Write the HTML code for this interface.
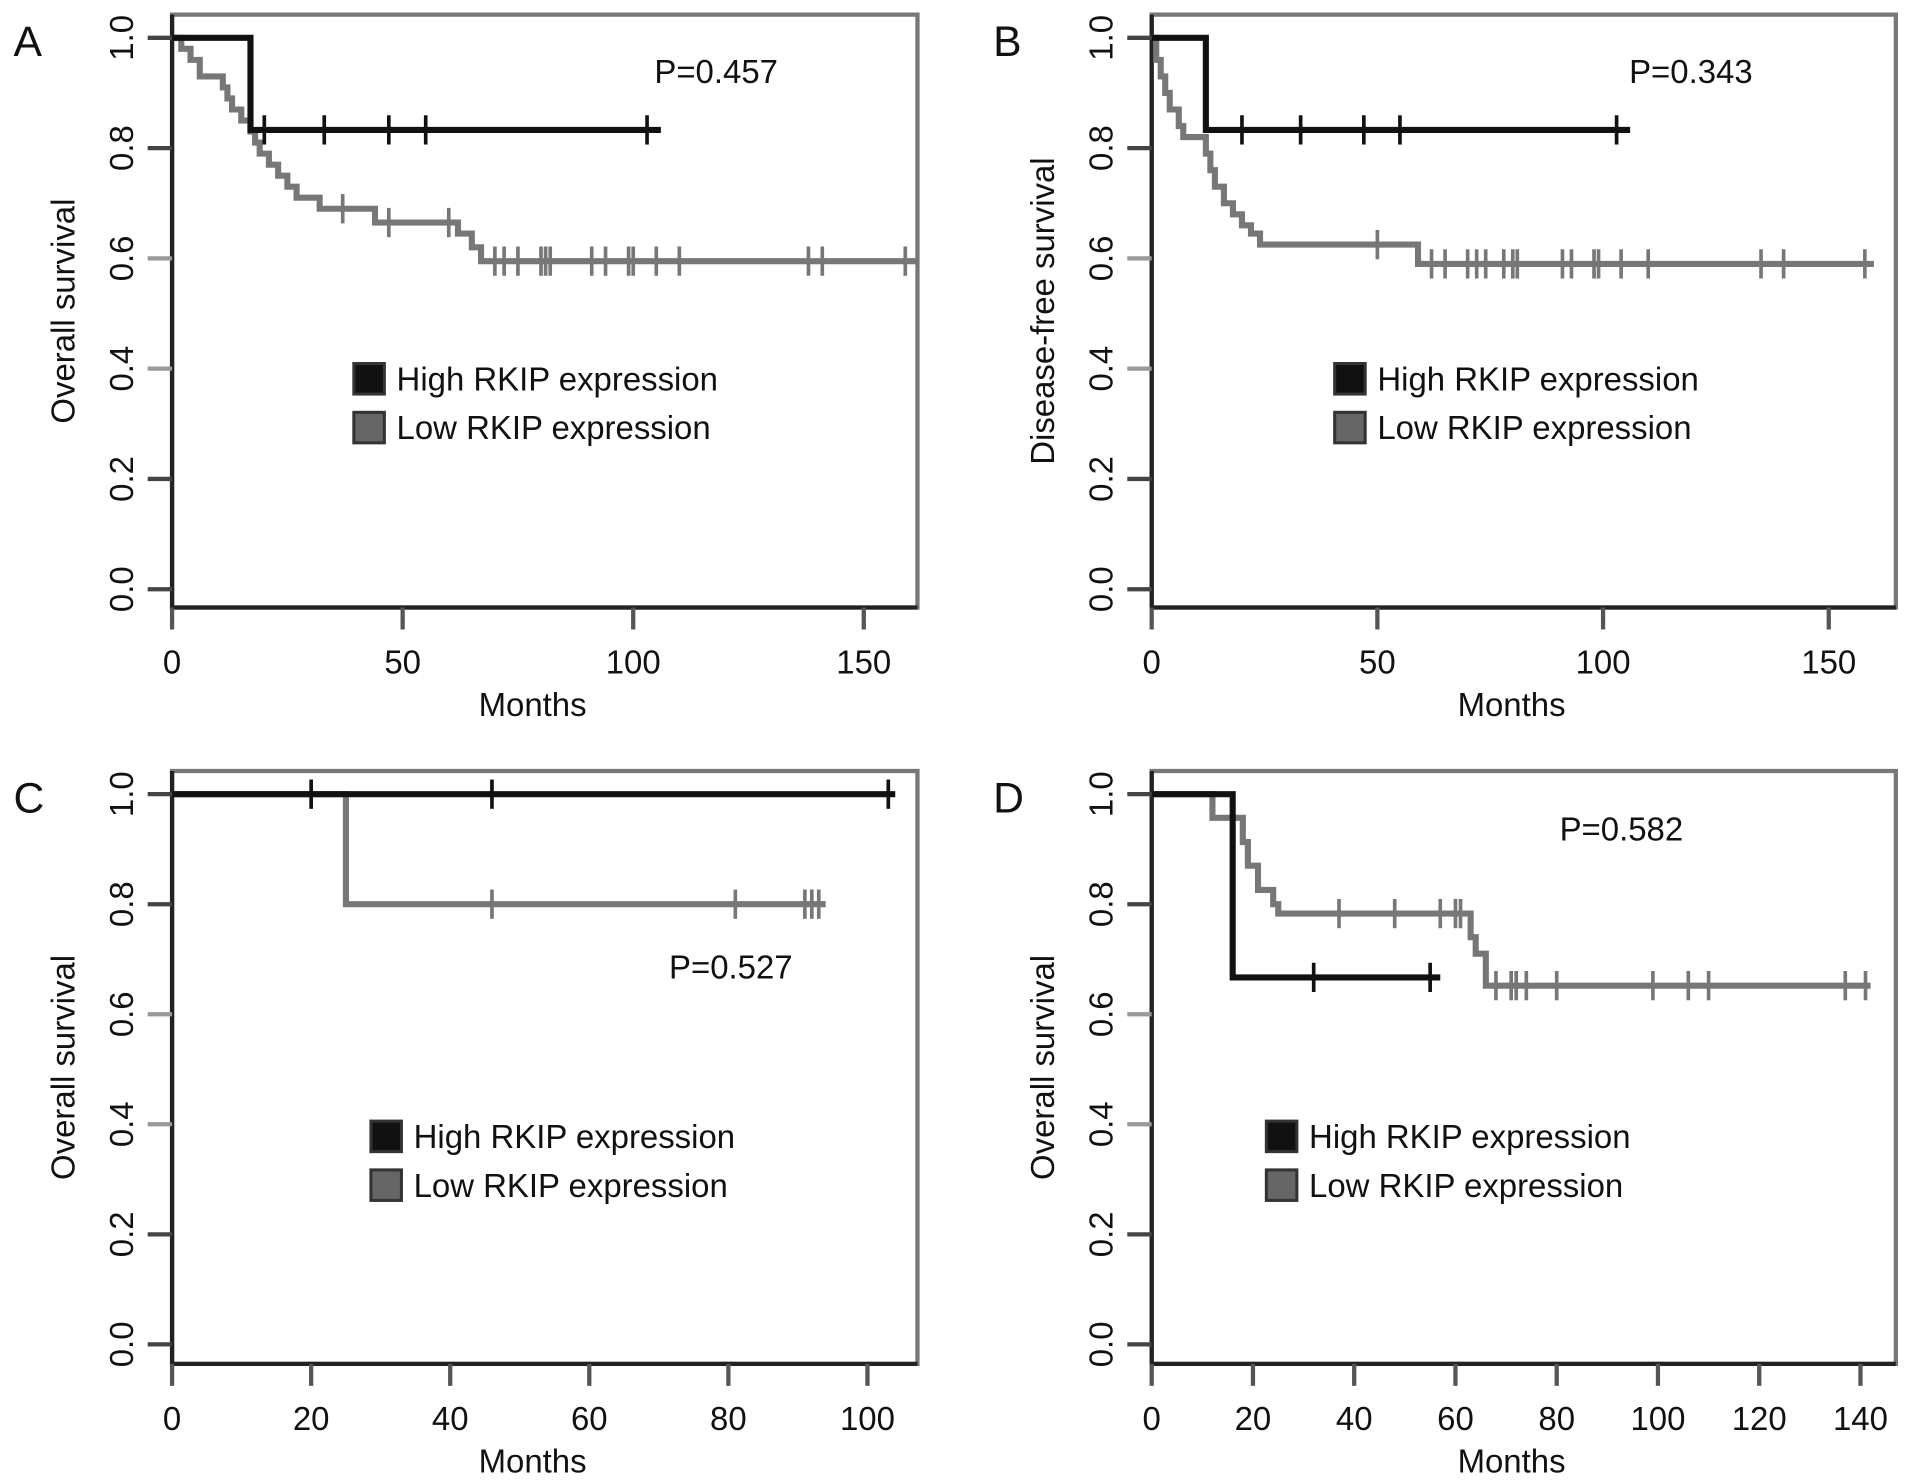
<!DOCTYPE html>
<html><head><meta charset="utf-8"><style>
html,body{margin:0;padding:0;background:#fff}
svg{display:block}
text{font-family:"Liberation Sans",sans-serif;fill:#111}
</style></head><body>
<svg id="fig" width="1913" height="1481" viewBox="0 0 1568 1214" xmlns="http://www.w3.org/2000/svg"></svg>
<script>
// Panel A
const aHighSteps=[[0,1],[17,0.833]];
const aHighCens=[20,33,47,55,103];
const aHighEnd=106;
const aLowSteps=[[0,1],[2,0.98],[4,0.96],[6,0.93],[11,0.91],[12,0.89],[13,0.87],[15,0.85],[17,0.83],[18,0.81],[19,0.79],[21,0.77],[23,0.75],[25,0.73],[27,0.71],[32,0.69],[44,0.665],[62,0.645],[65,0.62],[67,0.595]];
const aLowCens=[37,47,60,70,72,75,80,81,82,91,94,99,100,105,110,138,141,159];
const aLowEnd=162;
// Panel B
const bHighSteps=[[0,1],[12,0.833]];
const bHighCens=[20,33,47,55,103];
const bHighEnd=106;
const bLowSteps=[[0,1],[1,0.96],[2,0.93],[3,0.9],[4,0.87],[6,0.84],[7,0.82],[12,0.79],[13,0.76],[14,0.73],[16,0.7],[18,0.68],[20,0.66],[22,0.645],[24,0.625],[59,0.59]];
const bLowCens=[50,62,65,70,72,74,78,80,81,91,93,98,99,104,110,135,140,158];
const bLowEnd=160;
// Panel C
const cHighSteps=[[0,1]];
const cHighCens=[20,46,103];
const cHighEnd=104;
const cLowSteps=[[0,1],[25,0.8]];
const cLowCens=[46,81,91,92,93];
const cLowEnd=94;
// Panel D
const dHighSteps=[[0,1],[16,0.667]];
const dHighCens=[32,55];
const dHighEnd=57;
const dLowSteps=[[0,1],[12,0.957],[18,0.913],[19,0.87],[21,0.826],[24,0.8],[25,0.783],[63,0.74],[64,0.71],[66,0.652]];
const dLowCens=[37,48,57,60,61,68,71,72,74,80,99,106,110,137,141];
const dLowEnd=142;
// ticks
const yTicks=[0,0.2,0.4,0.6,0.8,1.0];
const yTickLabels=["0.0","0.2","0.4","0.6","0.8","1.0"];
const xTicksAB=[0,50,100,150];
const xTicksC=[0,20,40,60,80,100];
const xTicksD=[0,20,40,60,80,100,120,140];

const NS="http://www.w3.org/2000/svg";
const svg=document.getElementById('fig');
function mk(tag,attrs,parent){const e=document.createElementNS(NS,tag);for(const k in attrs)e.setAttribute(k,attrs[k]);(parent||svg).appendChild(e);return e;}

const panels=[
 {label:"A",L:141,R:752,T:12,B:498,y1:31,y0:483,xMax:150,xAt:708,ticks:xTicksAB,ytitle:"Overall survival",p:"P=0.457",px:587,py:68,lx:290,ly:310,hs:aHighSteps,hc:aHighCens,he:aHighEnd,ls:aLowSteps,lc:aLowCens,le:aLowEnd},
 {label:"B",L:944,R:1554,T:12,B:498,y1:31,y0:483,xMax:150,xAt:1499,ticks:xTicksAB,ytitle:"Disease-free survival",p:"P=0.343",px:1386,py:68,lx:1094,ly:310,hs:bHighSteps,hc:bHighCens,he:bHighEnd,ls:bLowSteps,lc:bLowCens,le:bLowEnd},
 {label:"C",L:141,R:752,T:632,B:1118,y1:651,y0:1102,xMax:100,xAt:711,ticks:xTicksC,ytitle:"Overall survival",p:"P=0.527",px:599,py:802,lx:304,ly:931,hs:cHighSteps,hc:cHighCens,he:cHighEnd,ls:cLowSteps,lc:cLowCens,le:cLowEnd},
 {label:"D",L:944,R:1554,T:632,B:1118,y1:651,y0:1102,xMax:140,xAt:1525,ticks:xTicksD,ytitle:"Overall survival",p:"P=0.582",px:1329,py:689,lx:1038,ly:931,hs:dHighSteps,hc:dHighCens,he:dHighEnd,ls:dLowSteps,lc:dLowCens,le:dLowEnd}
];

panels.forEach(P=>{
 const g=mk('g',{});
 
 
 const sx=v=>P.L+(P.xAt-P.L)*v/P.xMax;
 const sy=v=>P.y0+(P.y1-P.y0)*v;
 const box=mk('rect',{x:P.L,y:P.T,width:P.R-P.L,height:P.B-P.T,fill:'none',stroke:'#777','stroke-width':3.5},g);
 
 
 mk('line',{x1:P.L,y1:P.T,x2:P.L,y2:P.B,stroke:'#222','stroke-width':3.5},g);
 mk('line',{x1:P.L,y1:P.B,x2:P.R,y2:P.B,stroke:'#222','stroke-width':3.5},g);
 const lab=mk('text',{x:P.L-130,y:P.T+34,'font-size':35},g);lab.textContent=P.label;
 
 
 yTicks.forEach((t,i)=>{
  const y=sy(t);
  mk('line',{x1:P.L-20,y1:y,x2:P.L,y2:y,stroke:(i==2||i==3)?'#999':'#444','stroke-width':3.5},g);
  const tx=mk('text',{x:0,y:0,'font-size':27,'text-anchor':'middle',transform:`translate(${P.L-32},${y}) rotate(-90)`},g);
  tx.textContent=yTickLabels[i];
  
  
 });
 P.ticks.forEach(t=>{
  const x=sx(t);
  mk('line',{x1:x,y1:P.B,x2:x,y2:P.B+18,stroke:'#555','stroke-width':3.5},g);
  const tx=mk('text',{x:x,y:P.B+54,'font-size':27,'text-anchor':'middle'},g);
  tx.textContent=t;
  
  
 });
 const xt=mk('text',{x:(P.L+P.R)/2-10,y:P.B+89,'font-size':27,'text-anchor':'middle'},g);xt.textContent="Months";
 
 
 const yt=mk('text',{x:0,y:0,'font-size':27,'text-anchor':'middle',transform:`translate(${P.L-80},${(P.T+P.B)/2}) rotate(-90)`},g);yt.textContent=P.ytitle;
 
 
 const pv=mk('text',{x:P.px,y:P.py,'font-size':27,'text-anchor':'middle'},g);pv.textContent=P.p;
 
 
 function curve(steps,cens,end,color,name){
  let d=`M${sx(steps[0][0])},${sy(steps[0][1])}`;
  for(let i=1;i<steps.length;i++){d+=` H${sx(steps[i][0])} V${sy(steps[i][1])}`;}
  d+=` H${sx(end)}`;
  const p=mk('path',{d:d,fill:'none',stroke:color,'stroke-width':5},g);
  
  
  cens.forEach(c=>{
   let s=steps[0][1];steps.forEach(st=>{if(st[0]<=c)s=st[1];});
   const m=mk('line',{x1:sx(c),y1:sy(s)-12,x2:sx(c),y2:sy(s)+12,stroke:color,'stroke-width':3},g);
   
   
  });
 }
 curve(P.ls,P.lc,P.le,'#777','low-rkip-curve');
 curve(P.hs,P.hc,P.he,'#111','high-rkip-curve');
 [["High RKIP expression","#111"],["Low RKIP expression","#666"]].forEach((e,i)=>{
  const y=P.ly+i*40;
  const r=mk('rect',{x:P.lx,y:y-12,width:25,height:25,fill:e[1],stroke:'#333','stroke-width':2.5},g);
  
  
  const t=mk('text',{x:P.lx+35,y:y+10,'font-size':27},g);t.textContent=e[0];
  
  
 });
});
</script>
</body></html>
